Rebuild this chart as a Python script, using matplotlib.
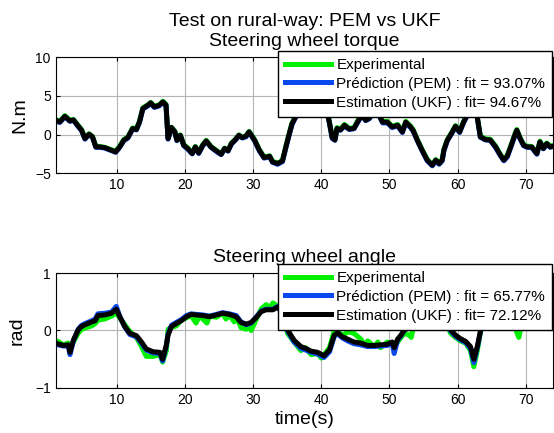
import matplotlib
matplotlib.use('Agg')
from matplotlib import pyplot as plt

plt.rcParams['font.family'] = ['Liberation Sans', 'DejaVu Sans']

# --- steering wheel torque (N.m) ---
t_torque = [1, 1.6, 2.35, 3.1, 3.6, 4.1, 4.8, 5.3, 5.9, 6.4, 6.9, 7.5, 8.2, 8.95, 9.8,
            10.4, 11.0, 11.6, 12.3, 12.85, 13.3, 13.8, 14.55, 14.95, 15.5, 16.2, 16.75,
            17.2, 17.5, 18.0, 18.5, 18.8, 19.3, 19.8, 20.4, 21.05, 21.5, 22.0, 22.6, 23.1,
            23.8, 24.6, 25.3, 25.8, 26.3, 26.8, 27.4, 27.9, 28.4, 28.95, 29.4, 30.2, 30.9,
            31.6, 32.4, 32.85, 33.6, 34.3, 34.8, 35.3, 35.7, 36.1, 36.5, 37.2, 38.0, 39.0,
            40.0, 40.8, 41.2, 41.6, 42.0, 42.3, 42.8, 43.4, 44.1, 44.8, 45.3, 46.0, 46.5,
            47.0, 47.8, 48.5, 49.0, 49.7, 50.4, 51.2, 51.9, 52.4, 53.1, 53.5, 54.1, 54.8,
            55.55, 56.3, 56.8, 57.3, 57.75, 58.0, 58.5, 59.1, 59.7, 60.3, 60.9, 61.4, 62.0,
            62.5, 62.85, 63.35, 64.1, 64.8, 65.6, 66.3, 66.8, 67.3, 67.8, 68.4, 68.7, 69.2,
            69.7, 70.2, 70.9, 71.65, 72.1, 72.6, 73.1, 73.6, 74.0]
torque_ukf = [1.85, 1.63, 2.35, 1.76, 1.9, 1.33, 0.56, -0.52, 0.04, -0.3, -1.6, -1.6, -1.7,
              -1.95, -2.25, -1.6, -0.74, -0.39, 0.77, 0.65, 1.63, 3.36, 3.79, 4.1, 3.57, 3.79,
              4.22, 3.8, -0.52, 0.9, 0.34, -0.74, -0.1, -1.38, -1.82, -2.46, -1.6, -2.38,
              -1.38, -0.82, -1.6, -2.12, -2.55, -1.8, -2.1, -1.17, -0.65, -0.1, -0.4, -0.2,
              0.34, -0.74, -2.03, -2.98, -2.8, -3.54, -3.75, -3.4, -1.6, 0.1, 1.4, 2.07, 2.7,
              3.1, 3.6, 4.2, 3.9, 3.2, 1.5, -0.4, -0.7, 0.8, 0.6, 1.2, 0.7, 0.8, 1.6, 2.6,
              1.85, 2.1, 3.0, 2.5, 1.6, 1.6, 0.98, 1.2, 0.34, 1.6, 1.0, 0.5, -0.74, -2.03,
              -3.3, -3.97, -3.3, -3.75, -3.3, -2.0, -0.74, 0.13, 1.07, 0.34, 1.63, 2.5, 5.5,
              5.0, 2.5, -0.3, -0.65, -0.7, -1.6, -2.68, -3.3, -2.8, -1.6, -0.1, 0.56, -0.52,
              -1.38, -1.6, -1.6, -2.46, -0.95, -1.8, -1.17, -1.6, -1.5]
torque_pem = [1.75, 1.55, 2.3, 1.7, 1.85, 1.25, 0.5, -0.6, 0.0, -0.35, -1.65, -1.65, -1.75,
              -2.0, -2.3, -1.65, -0.8, -0.45, 0.7, 0.6, 1.55, 3.3, 3.7, 4.0, 3.5, 3.7,
              4.15, 3.7, -0.6, 0.85, 0.3, -0.8, -0.15, -1.45, -1.9, -2.5, -1.65, -2.45,
              -1.45, -0.9, -1.65, -2.2, -2.6, -1.85, -2.15, -1.25, -0.7, -0.15, -0.45, -0.3,
              0.3, -0.8, -2.1, -3.05, -2.9, -3.6, -3.85, -3.5, -1.7, 0.0, 1.3, 2.0, 2.6,
              3.0, 3.5, 4.1, 3.8, 3.1, 1.4, -0.5, -0.75, 0.7, 0.55, 1.1, 0.65, 0.75, 1.5, 2.5,
              1.8, 2.0, 2.9, 2.4, 1.5, 1.5, 0.9, 1.1, 0.25, 1.5, 0.9, 0.4, -0.8, -2.1,
              -3.4, -4.05, -3.4, -3.85, -3.4, -2.1, -0.8, 0.05, 1.0, 0.25, 1.55, 2.4, 5.4,
              4.9, 2.4, -0.35, -0.7, -0.75, -1.7, -2.75, -3.4, -2.9, -1.7, -0.2, 0.5, -0.6,
              -1.45, -1.65, -1.7, -2.55, -1.0, -1.85, -1.25, -1.65, -1.55]
torque_exp = [1.95, 1.7, 2.45, 1.85, 1.95, 1.4, 0.65, -0.45, 0.1, -0.25, -1.5, -1.55, -1.65,
              -1.9, -2.15, -1.5, -0.65, -0.3, 0.85, 0.75, 1.7, 3.45, 3.85, 4.15, 3.65, 3.85,
              4.3, 3.9, -0.45, 0.95, 0.4, -0.65, -0.05, -1.3, -1.75, -2.4, -1.55, -2.3,
              -1.3, -0.75, -1.55, -2.05, -2.5, -1.75, -2.05, -1.1, -0.6, -0.05, -0.35, -0.15,
              0.4, -0.65, -1.95, -2.9, -2.75, -3.45, -3.7, -3.35, -1.5, 0.2, 1.5, 2.15, 2.8,
              3.2, 3.7, 4.3, 4.0, 3.3, 1.6, -0.3, -0.6, 0.9, 0.7, 1.3, 0.8, 0.9, 1.7, 2.7,
              1.95, 2.2, 3.1, 2.6, 1.7, 1.7, 1.05, 1.3, 0.45, 1.7, 1.1, 0.6, -0.65, -1.95,
              -3.2, -3.9, -3.25, -3.65, -3.2, -1.9, -0.65, 0.2, 1.15, 0.45, 1.7, 2.6, 5.6,
              5.1, 2.6, -0.2, -0.55, -0.6, -1.5, -2.6, -3.2, -2.7, -1.5, 0.0, 0.65, -0.45,
              -1.3, -1.5, -1.55, -2.4, -0.85, -1.7, -1.1, -1.5, -1.45]

# --- steering wheel angle (rad) ---
t_angle = [1, 2.1, 2.85, 3.1, 3.6, 4.3, 4.8, 5.5, 6.3, 6.8, 7.2, 8.2, 9.2, 9.9, 10.4,
           11.15, 11.9, 12.85, 13.6, 14.3, 15.3, 16.3, 16.7, 17.25, 17.5, 18.0, 18.7, 19.45,
           20.2, 20.9, 21.6, 22.6, 23.6, 24.6, 25.5, 26.5, 27.5, 28.2, 28.97, 29.7, 30.4,
           31.2, 31.9, 32.9, 33.6, 34.3, 35.05, 36.0, 37.0, 37.7, 38.5, 39.45, 40.4, 41.2,
           41.9, 42.4, 43.1, 43.85, 44.8, 45.8, 46.8, 47.8, 48.7, 49.7, 50.4, 50.7, 51.2,
           51.7, 52.2, 52.9, 54, 55, 56, 57, 58, 58.6, 59.0, 59.7, 60.4, 61.2, 61.9, 62.4,
           62.9, 63.4, 63.8, 65, 66, 67, 68, 69, 70, 71, 72, 73, 74]
angle_ukf = [-0.22, -0.26, -0.25, -0.38, -0.17, 0.01, 0.07, 0.11, 0.15, 0.17, 0.26, 0.27,
             0.3, 0.37, 0.24, 0.07, -0.05, -0.09, -0.2, -0.32, -0.37, -0.38, -0.5, -0.25,
             -0.08, 0.07, 0.12, 0.17, 0.24, 0.28, 0.27, 0.26, 0.24, 0.27, 0.3, 0.28, 0.24,
             0.14, 0.11, 0.14, 0.22, 0.33, 0.36, 0.36, 0.41, 0.3, 0.01, -0.17, -0.28, -0.31,
             -0.36, -0.38, -0.44, -0.34, -0.08, -0.04, -0.11, -0.15, -0.2, -0.22, -0.26,
             -0.26, -0.25, -0.24, -0.2, -0.3, -0.15, -0.08, 0.01, 0.05, 0.15, 0.2, 0.2, 0.22,
             0.18, 0.08, 0.01, -0.08, -0.14, -0.19, -0.28, -0.5, -0.28, 0.01, 0.15, 0.25,
             0.3, 0.3, 0.25, 0.2, 0.3, 0.35, 0.3, 0.3, 0.3]
angle_pem = [-0.24, -0.27, -0.27, -0.42, -0.18, 0.02, 0.09, 0.13, 0.17, 0.2, 0.29, 0.3,
             0.32, 0.42, 0.25, 0.06, -0.07, -0.11, -0.22, -0.34, -0.39, -0.4, -0.53, -0.27,
             -0.06, 0.09, 0.14, 0.19, 0.26, 0.29, 0.28, 0.27, 0.25, 0.28, 0.31, 0.29, 0.26,
             0.15, 0.1, 0.13, 0.23, 0.34, 0.37, 0.37, 0.42, 0.3, -0.01, -0.2, -0.31, -0.34,
             -0.38, -0.41, -0.47, -0.37, -0.1, -0.06, -0.13, -0.18, -0.23, -0.25, -0.28,
             -0.28, -0.27, -0.26, -0.22, -0.4, -0.17, -0.09, 0.01, 0.05, 0.15, 0.2, 0.2, 0.22,
             0.18, 0.07, -0.01, -0.1, -0.16, -0.21, -0.31, -0.56, -0.3, 0.0, 0.15, 0.25,
             0.3, 0.3, 0.25, 0.2, 0.3, 0.35, 0.3, 0.3, 0.3]
t_angle_exp = [1, 1.5, 2.1, 2.85, 3.1, 3.6, 4.3, 4.8, 5.5, 6.3, 6.8, 7.2, 8.2, 9.2, 9.9,
               10.4, 11.15, 11.9, 12.85, 13.6, 14.3, 15.3, 16.3, 16.7, 17.25, 17.5, 18.0,
               18.7, 19.45, 20.2, 20.9, 21.6, 22.1, 22.6, 23.2, 23.6, 24.6, 25.5, 26.0, 26.5,
               27.2, 27.5, 28.2, 28.97, 29.3, 29.7, 30.4, 31.2, 31.9, 32.5, 32.9, 33.6, 34.3,
               35.05, 36.0, 37.0, 37.7, 38.5, 39.45, 40.0, 40.4, 41.2, 41.9, 42.4, 43.1,
               43.85, 44.8, 45.8, 46.3, 46.8, 47.8, 48.3, 48.7, 49.7, 50.4, 50.7, 51.2, 51.7,
               52.2, 52.9, 53.2, 53.6, 55, 56, 57, 58, 58.6, 59.0, 59.7, 60.4, 61.2, 61.9,
               62.4, 62.9, 63.4, 64, 65, 66, 67, 68, 68.6, 69.0, 69.4, 70, 71, 72, 73, 74]
angle_exp = [-0.17, -0.2, -0.25, -0.22, -0.33, -0.2, -0.05, 0.02, 0.05, 0.08, 0.12, 0.18,
             0.2, 0.25, 0.3, 0.22, 0.1, -0.02, -0.12, -0.28, -0.45, -0.45, -0.42, -0.55,
             -0.35, 0.02, 0.05, 0.08, 0.18, 0.22, 0.26, 0.13, 0.25, 0.2, 0.13, 0.25, 0.23,
             0.3, 0.2, 0.27, 0.15, 0.25, 0.05, 0.02, 0.12, 0.0, 0.18, 0.38, 0.45, 0.4, 0.48,
             0.42, 0.3, -0.05, -0.2, -0.35, -0.3, -0.42, -0.4, -0.48, -0.42, -0.3, 0.0, 0.02,
             -0.1, -0.02, -0.05, -0.15, -0.25, -0.18, -0.28, -0.2, -0.3, -0.2, -0.25, -0.3,
             -0.2, -0.12, -0.05, -0.08, -0.12, 0.1, 0.15, 0.2, 0.22, 0.18, 0.05, -0.05,
             -0.12, -0.18, -0.22, -0.35, -0.63, -0.35, 0.0, 0.15, 0.25, 0.3, 0.3, 0.2, 0.0,
             -0.12, 0.1, 0.25, 0.3, 0.3, 0.3, 0.3]

labels_torque = ['Experimental', 'Prédiction (PEM) : fit = 93.07%', 'Estimation (UKF) : fit= 94.67%']
labels_angle = ['Experimental', 'Prédiction (PEM) : fit = 65.77%', 'Estimation (UKF) : fit= 72.12%']

green = '#00f000'
blue = '#0a48f0'
black = '#000000'
lw = 3.6

fig = plt.figure(figsize=(5.54, 4.33), dpi=100)
ax1 = fig.add_axes([0.1005, 0.600, 0.8975, 0.268])
ax2 = fig.add_axes([0.1005, 0.104, 0.8975, 0.2655])


def style(ax):
    ax.grid(True, color='#b4b4b4', linewidth=0.8)
    ax.set_axisbelow(True)
    ax.tick_params(direction='in', top=True, right=True, labelsize=10, length=3)
    for s in ax.spines.values():
        s.set_linewidth(0.8)
    ax.set_xlim(1, 74)
    ax.set_xticks([10, 20, 30, 40, 50, 60, 70])


ax1.plot(t_torque, torque_exp, color=green, lw=lw, label=labels_torque[0])
ax1.plot(t_torque, torque_pem, color=blue, lw=lw, label=labels_torque[1])
ax1.plot(t_torque, torque_ukf, color=black, lw=lw, label=labels_torque[2])
style(ax1)
ax1.set_ylim(-5, 10)
ax1.set_yticks([-5, 0, 5, 10])
ax1.set_ylabel('N.m', fontsize=14, labelpad=5)
ax1.set_title('Test on rural-way: PEM vs UKF\nSteering wheel torque', fontsize=14, pad=8,
              linespacing=1.2)

ax2.plot(t_angle_exp, angle_exp, color=green, lw=lw, label=labels_angle[0])
ax2.plot(t_angle, angle_pem, color=blue, lw=lw, label=labels_angle[1])
ax2.plot(t_angle, angle_ukf, color=black, lw=lw, label=labels_angle[2])
style(ax2)
ax2.set_ylim(-1, 1)
ax2.set_yticks([-1, 0, 1])
ax2.set_ylabel('rad', fontsize=14, labelpad=7)
ax2.set_xlabel('time(s)', fontsize=14, labelpad=3)
ax2.set_title('Steering wheel angle', fontsize=14, pad=8)

for ax, top in [(ax1, 1 - 51 / 433), (ax2, 1 - 264 / 433)]:
    leg = ax.legend(loc='upper right', bbox_to_anchor=(552 / 554, top),
                    bbox_transform=fig.transFigure, fontsize=11, fancybox=False,
                    framealpha=1, edgecolor='black', borderpad=0.45, labelspacing=0.32,
                    handlelength=3.0, handletextpad=0.35, borderaxespad=0)
    leg.get_frame().set_linewidth(1.0)
    leg.set_zorder(10)

fig.savefig('out.png', dpi=100)
